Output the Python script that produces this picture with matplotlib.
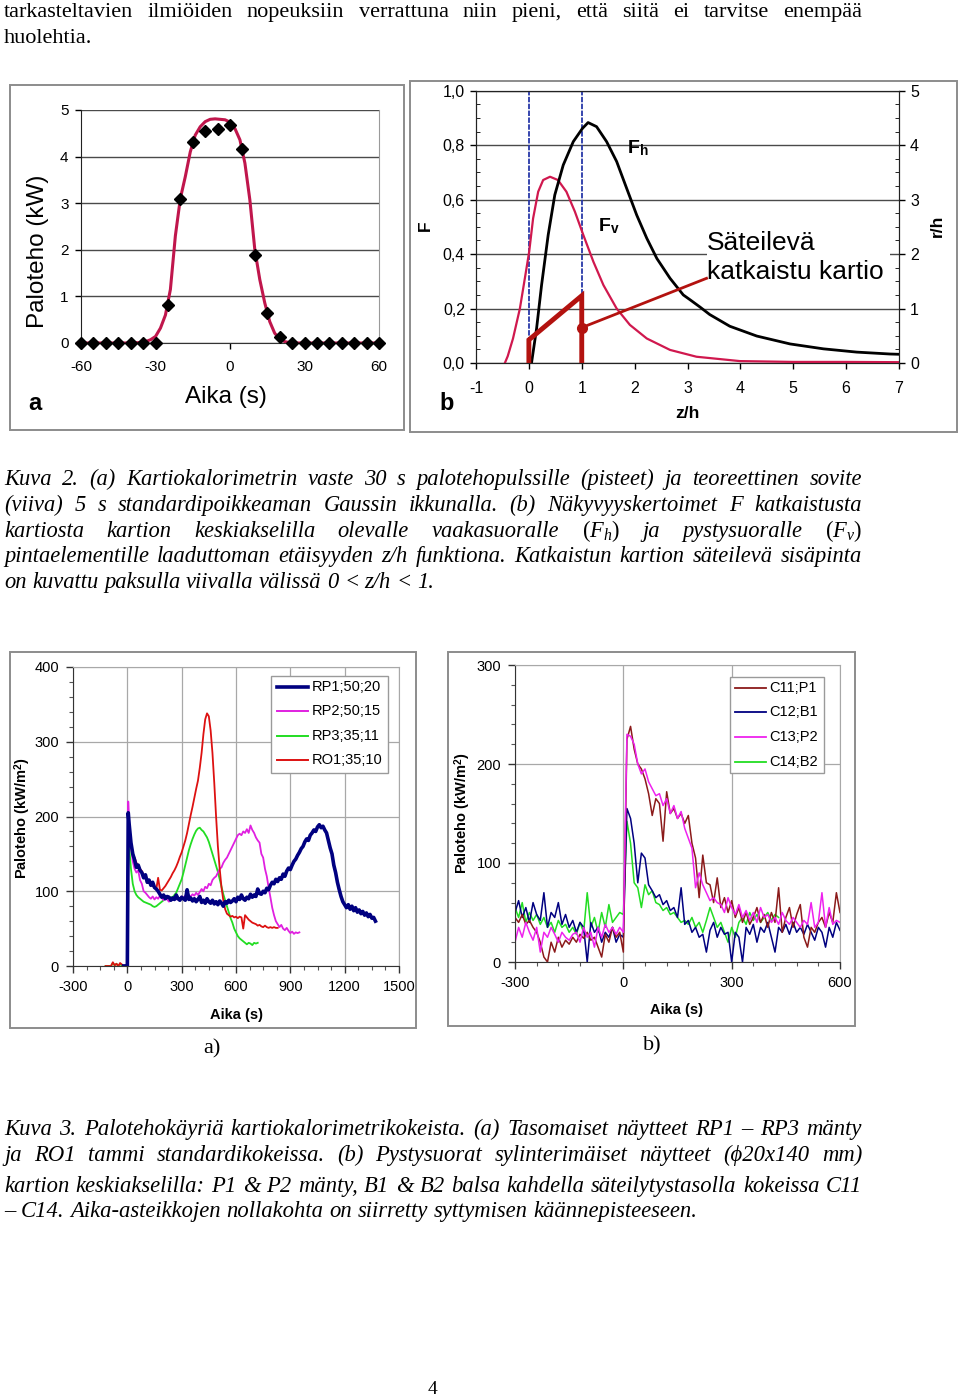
import numpy as np
import matplotlib
matplotlib.use("Agg")
import matplotlib.pyplot as plt
from matplotlib.lines import Line2D
from matplotlib.patches import Rectangle
from matplotlib.ticker import MultipleLocator, FuncFormatter

# ---------------- DATA ----------------
# Kuva 2a: pulse response points and Gaussian fit
pulse_t = [-60, -55, -50, -45, -40, -35, -30, -25, -20, -15, -10, -5, 0, 5, 10, 15, 20,
           25, 30, 35, 40, 45, 50, 55, 60]
pulse_v = [0, 0, 0, 0, 0, 0, 0, 0.82, 3.1, 4.32, 4.55, 4.6, 4.68, 4.17, 1.88, 0.65, 0.12,
           0, 0, 0, 0, 0, 0, 0, 0]
fit_t = [-60, -40, -36, -34, -32, -30, -28, -26, -24, -22, -20, -18, -16, -14, -12, -10, -8,
         -6, -4, -2, 0, 2, 4, 6, 8, 10, 12, 14, 16, 18, 20, 22, 24, 26, 60]
fit_v = [0, 0, 0.01, 0.03, 0.07, 0.14, 0.32, 0.6, 1.15, 2.3, 3.1, 3.57, 4.1, 4.46, 4.64, 4.75,
         4.8, 4.81, 4.8, 4.79, 4.74, 4.6, 4.36, 3.86, 3.07, 2.0, 1.36, 0.86, 0.46, 0.21, 0.09,
         0.03, 0.01, 0, 0]

# Kuva 2b: view factors
fh_z = [0.05, 0.146, 0.24, 0.365, 0.49, 0.65, 0.84, 1.015, 1.12, 1.28, 1.47, 1.66, 1.85, 2.04,
        2.23, 2.42, 2.67, 2.92, 3.05, 3.24, 3.42, 3.80, 4.31, 4.94, 5.57, 6.2, 6.83, 7.0]
fh_F = [0.0, 0.127, 0.286, 0.47, 0.617, 0.727, 0.813, 0.862, 0.883, 0.868, 0.813, 0.74, 0.641,
        0.543, 0.458, 0.384, 0.311, 0.25, 0.232, 0.205, 0.178, 0.135, 0.099, 0.07, 0.052,
        0.04, 0.033, 0.032]
fv_z = [-0.454, -0.40, -0.30, -0.17, -0.076, 0.006, 0.08, 0.176, 0.27, 0.40, 0.55, 0.71, 0.87,
        1.03, 1.22, 1.41, 1.66, 1.91, 2.23, 2.67, 3.17, 3.99, 5.0, 6.0, 7.0]
fv_F = [0.0, 0.025, 0.09, 0.2, 0.311, 0.409, 0.531, 0.629, 0.672, 0.684, 0.672, 0.629, 0.556,
        0.47, 0.372, 0.286, 0.2, 0.14, 0.09, 0.048, 0.023, 0.007, 0.004, 0.004, 0.003]
cone_z = [0, 0, 1, 1]
cone_F = [0, 0.085, 0.247, 0]
marker_zF = (1.0, 0.13)
label_zF = (3.36, 0.311)

# Kuva 3a: flat samples (t from -20 / -120 step 10 before ignition, peak at 5 s, then step 10 from 10 s)
rp1_pre = [0, 0, 0]
rp1_peak = 205
rp1_vals = [190, 165, 150, 142, 132, 135, 128, 125, 118, 122, 112, 115, 108, 112, 105, 103, 100,
            96, 92, 95, 90, 93, 92, 88, 91, 89, 95, 90, 88, 92, 90, 88, 102, 89, 91, 87, 90, 86,
            89, 93, 85, 88, 84, 90, 86, 84, 88, 83, 86, 82, 87, 84, 80, 86, 84, 88, 85, 87, 90,
            86, 92, 89, 95, 90, 88, 92, 90, 96, 92, 95, 93, 103, 97, 96, 100, 98, 104, 102, 108,
            112, 110, 116, 113, 118, 116, 123, 120, 127, 131, 129, 135, 140, 143, 148, 152, 157,
            160, 166, 170, 168, 175, 178, 182, 180, 186, 189, 185, 187, 182, 178, 168, 158, 150,
            135, 125, 112, 102, 93, 86, 82, 78, 82, 76, 80, 74, 78, 72, 75, 70, 73, 68, 71, 66,
            69, 64, 65, 60]
rp2_pre = [0, 0, 0]
rp2_peak = 220
rp2_vals = [190, 160, 140, 130, 125, 128, 115, 110, 100, 98, 95, 92, 90, 93, 89, 92, 90, 94, 91,
            88, 92, 89, 86, 90, 88, 92, 89, 91, 90, 93, 91, 94, 92, 95, 93, 96, 94, 98, 95, 99,
            103, 100, 106, 104, 110, 108, 115, 118, 120, 125, 130, 132, 138, 142, 145, 150, 155,
            160, 165, 170, 175, 177, 175, 180, 178, 183, 178, 188, 182, 178, 172, 168, 165, 150,
            145, 130, 120, 105, 92, 78, 68, 60, 56, 52, 55, 50, 48, 51, 47, 44, 46, 43, 45, 44, 45]
rp3_pre = [0, 0, 0, 0, 4, 1, 3, 0, 2, 1, 0, 1, 0]
rp3_peak = 190
rp3_vals = [160, 130, 110, 100, 95, 92, 90, 88, 86, 85, 84, 83, 82, 80, 79, 80, 82, 84, 86, 88,
            90, 91, 91, 92, 92, 95, 98, 104, 110, 116, 125, 135, 145, 155, 163, 170, 176, 181,
            184, 185, 182, 180, 176, 172, 166, 158, 150, 142, 134, 126, 116, 106, 96, 88, 80, 72,
            64, 58, 50, 45, 40, 37, 35, 33, 31, 29, 31, 30, 28, 31, 30, 31]
ro1_pre = [0, 0, 0, 0, 5, 1, 3, 0, 4, 2, 0, 1, 0]
ro1_peak = 205
ro1_vals = [175, 160, 150, 145, 138, 135, 130, 127, 122, 118, 115, 112, 110, 107, 105, 103, 118,
            102, 101, 104, 107, 111, 115, 119, 124, 128, 133, 139, 146, 152, 160, 168, 178, 190,
            202, 213, 225, 237, 248, 265, 285, 310, 330, 338, 334, 315, 285, 245, 200, 160, 130,
            105, 88, 76, 70, 68, 66, 67, 65, 66, 64, 66, 65, 50, 68, 65, 62, 60, 58, 57, 56, 54,
            55, 53, 52, 54, 52, 51, 52, 51, 52, 51, 51]

# Kuva 3b: cylinder samples, t from -300 s step 10 s
c11 = [45, 40, 48, 38, 42, 35, 30, 20, 5, 0, 20, 10, 25, 15, 22, 18, 25, 20, 28, 24, 30, 22, 25,
       15, 5, 28, 20, 35, 25, 30, 10, 225, 238, 215, 200, 195, 185, 170, 148, 165, 160, 122, 172,
       150, 155, 145, 150, 140, 148, 120, 105, 65, 108, 80, 78, 60, 85, 55, 65, 50, 62, 45, 55,
       40, 50, 38, 45, 55, 40, 48, 35, 50, 40, 75, 30, 45, 55, 35, 48, 58, 25, 15, 35, 30, 40,
       45, 35, 50, 40, 70, 50]
c12 = [50, 62, 45, 55, 40, 60, 48, 42, 70, 35, 50, 45, 60, 38, 48, 35, 42, 30, 40, 35, 0, 40,
       30, 35, 20, 30, 25, 35, 20, 28, 25, 155, 145, 120, 80, 110, 105, 78, 72, 65, 68, 58, 62,
       52, 55, 45, 75, 38, 42, 30, 35, 25, 28, 10, 32, 40, 25, 35, 28, 30, 0, 30, 25, 0, 35, 28,
       38, 20, 35, 30, 40, 25, 10, 35, 30, 38, 28, 40, 30, 35, 28, 38, 30, 22, 35, 30, 15, 35,
       25, 40, 32]
c13 = [20, 35, 25, 40, 30, 22, 35, 10, 30, 25, 35, 28, 20, 30, 25, 22, 28, 30, 20, 35, 25, 30,
       15, 35, 25, 38, 30, 35, 28, 35, 30, 230, 228, 220, 200, 190, 195, 182, 175, 168, 170, 158,
       165, 150, 158, 145, 152, 135, 125, 115, 75, 90, 78, 70, 62, 65, 60, 58, 50, 65, 55, 48,
       58, 45, 52, 42, 50, 40, 55, 45, 48, 40, 45, 38, 50, 42, 38, 45, 40, 35, 42, 38, 60, 35,
       40, 70, 35, 55, 38, 42, 40]
c14 = [55, 45, 60, 40, 50, 42, 48, 38, 45, 35, 40, 30, 42, 35, 38, 30, 35, 28, 40, 30, 70, 35,
       45, 30, 50, 35, 58, 40, 45, 50, 48, 142, 120, 80, 75, 55, 78, 68, 72, 60, 58, 52, 55, 48,
       50, 45, 40, 42, 38, 45, 35, 40, 30, 42, 55, 45, 35, 40, 30, 20, 35, 25, 40, 45, 38, 50,
       42, 48, 40, 45, 50, 42, 48, 45]

legend_a = ["RP1;50;20", "RP2;50;15", "RP3;35;11", "RO1;35;10"]
legend_b = ["C11;P1", "C12;B1", "C13;P2", "C14;B2"]

# ---------------- FIGURE ----------------
plt.rcParams['font.family'] = ['Liberation Sans', 'DejaVu Sans']
plt.rcParams['axes.unicode_minus'] = False
plt.rcParams['mathtext.fontset'] = 'custom'
plt.rcParams['mathtext.rm'] = 'Liberation Serif'
plt.rcParams['mathtext.it'] = 'Liberation Serif:italic'
plt.rcParams['mathtext.bf'] = 'Liberation Sans:bold'

W, H = 960, 1399
fig = plt.figure(figsize=(W / 100, H / 100), dpi=100)
fig.patch.set_facecolor('white')
R = fig.canvas.get_renderer()
SERIF = ['Liberation Serif', 'DejaVu Serif']


def fx(x):
    return x / W


def fy(y):
    return 1 - y / H


def add_ax(x0, y0, x1, y1):
    return fig.add_axes([fx(x0), fy(y1), (x1 - x0) / W, (y1 - y0) / H])


def frame(x0, y0, x1, y1, color='#8c8c8c', lw=1.4, fc='none', z=4):
    fig.add_artist(Rectangle((fx(x0), fy(y1)), (x1 - x0) / W, (y1 - y0) / H,
                             transform=fig.transFigure, fc=fc, ec=color, lw=lw, zorder=z))


def ftext(x, y, s, **kw):
    return fig.text(fx(x), fy(y), s, **kw)


# ---- text paragraphs ----
def twidth(s, size, style):
    t = fig.text(0, 0, s, fontsize=size, family=SERIF, style=style)
    w = t.get_window_extent(renderer=R).width
    t.remove()
    return w


def fit_size(line, target, style, base=15.0):
    return base * target / twidth(line, base, style)


def draw_line(line, yb, size, style, justify, x0=4, x1=862):
    words = line.split(' ')
    widths = [twidth(w, size, style) for w in words]
    if justify and len(words) > 1:
        gap = (x1 - x0 - sum(widths)) / (len(words) - 1)
    else:
        gap = twidth('a a', size, style) - twidth('aa', size, style)
    x = x0
    for w, wd in zip(words, widths):
        fig.text(fx(x), fy(yb), w, fontsize=size, family=SERIF, style=style,
                 ha='left', va='baseline')
        x += wd + gap


def paragraph(lines, baselines, style, last_target):
    size = fit_size(lines[-1], last_target, style)
    for i, (ln, yb) in enumerate(zip(lines, baselines)):
        draw_line(ln, yb, size, style, justify=(i < len(lines) - 1))


paragraph(["tarkasteltavien ilmiöiden nopeuksiin verrattuna niin pieni, että siitä ei tarvitse enempää",
           "huolehtia."], [17, 43], 'normal', 89)

paragraph(["Kuva 2. (a) Kartiokalorimetrin vaste 30 s palotehopulssille (pisteet) ja teoreettinen sovite",
           "(viiva) 5 s standardipoikkeaman Gaussin ikkunalla. (b) Näkyvyyskertoimet F katkaistusta",
           r"kartiosta kartion keskiakselilla olevalle vaakasuoralle $(F_h)$ ja pystysuoralle $(F_v)$",
           "pintaelementille laaduttoman etäisyyden z/h funktiona. Katkaistun kartion säteilevä sisäpinta",
           "on kuvattu paksulla viivalla välissä 0 < z/h < 1."],
          [485, 511, 537, 562, 588], 'italic', 433)

paragraph(["Kuva 3. Palotehokäyriä kartiokalorimetrikokeista. (a) Tasomaiset näytteet RP1 – RP3 mänty",
           "ja RO1 tammi standardikokeissa. (b) Pystysuorat sylinterimäiset näytteet (ϕ20x140 mm)",
           "kartion keskiakselilla: P1 & P2 mänty, B1 & B2 balsa kahdella säteilytystasolla kokeissa C11",
           "– C14. Aika-asteikkojen nollakohta on siirretty syttymisen käännepisteeseen."],
          [1135, 1161, 1192, 1217], 'italic', 695)

ftext(212, 1049, "a)", fontsize=16, family=SERIF, ha='center', va='center')
ftext(652, 1046, "b)", fontsize=16, family=SERIF, ha='center', va='center')
ftext(432, 1390, "4", fontsize=14, family=SERIF, ha='center', va='center')

# ---- panel frames ----
frame(10, 85, 404, 430)
frame(410, 81, 957, 432)
frame(10, 652, 416, 1028)
frame(448, 652, 855, 1026)

# ---------------- Kuva 2a ----------------
axA = add_ax(81, 110, 379, 343)
axA.set_xlim(-60, 60)
axA.set_ylim(0, 5)
axA.set_xticks([-60, -30, 0, 30, 60])
axA.set_yticks(range(6))
axA.set_axisbelow(True)
axA.grid(axis='y', color='#4a4a4a', lw=1.0)
axA.spines['top'].set_visible(False)
axA.spines['right'].set_color('#9a9a9a')
axA.spines['bottom'].set_color('#333333')
axA.spines['left'].set_color('#222222')
axA.plot(fit_t, fit_v, color='#c0164c', lw=2.2, zorder=2)
axA.plot(pulse_t, pulse_v, ls='none', marker='D', ms=6, color='black', clip_on=False, zorder=3)
axA.tick_params(labelsize=11, length=4, width=1, pad=5)
axA.tick_params(axis='x', pad=8)
ftext(38, 251, "Paloteho (kW)", fontsize=17.5, rotation=90, ha='center', va='center')
ftext(226, 397, "Aika (s)", fontsize=17.5, ha='center', va='center')
ftext(35, 404, "a", fontsize=17, fontweight='bold', ha='center', va='center')

# ---------------- Kuva 2b ----------------
axB = add_ax(476, 90.7, 899, 363)
axB.set_xlim(-1, 7)
axB.set_ylim(0, 1)
axB.set_xticks(range(-1, 8))
axB.set_yticks(np.arange(0, 1.01, 0.2))
axB.yaxis.set_major_formatter(FuncFormatter(lambda v, p: f'{v:.1f}'.replace('.', ',')))
axB.yaxis.set_minor_locator(MultipleLocator(0.05))
axB.set_axisbelow(True)
axB.grid(axis='y', color='#4a4a4a', lw=1.0)
for s in axB.spines.values():
    s.set_color('#222222')
axB.tick_params(labelsize=11.5, length=4, width=1, pad=4)
axB.tick_params(axis='x', pad=9)
axB.tick_params(axis='y', which='minor', length=3, direction='in')
axB.add_patch(Rectangle((3.37, 0.268), 3.46, 0.22, fc='white', ec='none', zorder=1.5))
axB.axvline(0, color='#2838a8', lw=1.3, ls=(0, (3, 0.8)), zorder=2)
axB.axvline(1, color='#2838a8', lw=1.3, ls=(0, (3, 0.8)), zorder=2)
axB.plot(fv_z, fv_F, color='#d0184e', lw=1.6, zorder=3)
axB.plot(fh_z, fh_F, color='black', lw=2.0, zorder=3)
axB.plot(cone_z, cone_F, color='#b3120f', lw=3.5, zorder=4, solid_joinstyle='miter')
axB.plot([marker_zF[0], label_zF[0]], [marker_zF[1], label_zF[1]], color='#b3120f', lw=2, zorder=4)
axB.plot([marker_zF[0]], [marker_zF[1]], marker='o', ms=7, color='#b3120f', zorder=5)
axB2 = axB.twinx()
axB2.set_ylim(0, 5)
axB2.set_yticks(range(6))
axB2.yaxis.set_minor_locator(MultipleLocator(0.25))
axB2.tick_params(labelsize=11.5, length=4, width=1, pad=4)
axB2.tick_params(axis='y', which='minor', length=3, direction='in')
for s in axB2.spines.values():
    s.set_color('#222222')
ftext(707, 243, "Säteilevä", fontsize=19, ha='left', va='center')
ftext(707, 272, "katkaistu kartio", fontsize=19, ha='left', va='center')
ftext(627, 148, r"$\mathbf{F}_\mathbf{h}$", fontsize=14, ha='left', va='center')
ftext(598, 226, r"$\mathbf{F}_\mathbf{v}$", fontsize=14, ha='left', va='center')
ftext(425, 226, "F", fontsize=12.5, fontweight='bold', rotation=90, ha='center', va='center')
ftext(937, 226, "r/h", fontsize=12.5, fontweight='bold', rotation=90, ha='center', va='center')
ftext(687, 414, "z/h", fontsize=12.5, fontweight='bold', ha='center', va='center')
ftext(447, 404, "b", fontsize=17, fontweight='bold', ha='center', va='center')


# ---------------- Kuva 3 helpers ----------------
def style_axes(ax):
    ax.set_axisbelow(True)
    ax.grid(True, which='major', color='#a8a8a8', lw=0.9)
    ax.spines['left'].set_color('#333333')
    ax.spines['bottom'].set_color('#333333')
    ax.spines['top'].set_color('#a8a8a8')
    ax.spines['right'].set_color('#a8a8a8')
    ax.tick_params(which='major', labelsize=10.5, length=5, width=1, pad=5, colors='#333333',
                   labelcolor='black')
    ax.tick_params(which='minor', length=3, width=0.8, colors='#555555')


def legend_box(x0, y0, x1, y1, labels, colors, lws, ys, lx0, lx1, tx, fs):
    frame(x0, y0, x1, y1, color='#9a9a9a', lw=1.0, fc='white', z=5)
    for lab, col, lw, y in zip(labels, colors, lws, ys):
        fig.add_artist(Line2D([fx(lx0), fx(lx1)], [fy(y), fy(y)], transform=fig.transFigure,
                              color=col, lw=lw, zorder=6))
        fig.text(fx(tx), fy(y), lab, fontsize=fs, ha='left', va='center', zorder=6)


def series(pre, peak, vals):
    t = np.concatenate([np.arange(-10 * (len(pre) - 1), 1, 10), [5], np.arange(10, 10 * len(vals) + 1, 10)])
    v = np.concatenate([pre, [peak], vals])
    return t, v


# ---------------- Kuva 3a ----------------
axC = add_ax(73, 667, 399, 966)
axC.set_xlim(-300, 1500)
axC.set_ylim(0, 400)
axC.set_xticks(range(-300, 1501, 300))
axC.set_yticks(range(0, 401, 100))
axC.xaxis.set_minor_locator(MultipleLocator(75))
axC.yaxis.set_minor_locator(MultipleLocator(20))
style_axes(axC)
col_rp1, col_rp2, col_rp3, col_ro1 = '#000080', '#e020e0', '#22dd22', '#dd1111'
for (pre, pk, vals), col, lw in [((rp3_pre, rp3_peak, rp3_vals), col_rp3, 1.3),
                                 ((rp2_pre, rp2_peak, rp2_vals), col_rp2, 1.3),
                                 ((ro1_pre, ro1_peak, ro1_vals), col_ro1, 1.3),
                                 ((rp1_pre, rp1_peak, rp1_vals), col_rp1, 2.6)]:
    t, v = series(pre, pk, vals)
    axC.plot(t, v, color=col, lw=lw)
ftext(23, 818, r"Paloteho (kW/m$^\mathbf{2}$)", fontsize=10.5, fontweight='bold', rotation=90,
      ha='center', va='center')
ftext(237, 1015, "Aika (s)", fontsize=10.5, fontweight='bold', ha='center', va='center')
legend_box(271, 676, 388, 773, legend_a, [col_rp1, col_rp2, col_rp3, col_ro1],
           [2.6, 1.4, 1.4, 1.4], [687, 711, 736, 760], 277, 308, 312, 10.5)

# ---------------- Kuva 3b ----------------
axD = add_ax(515, 665, 840, 962)
axD.set_xlim(-300, 600)
axD.set_ylim(0, 300)
axD.set_xticks([-300, 0, 300, 600])
axD.set_yticks([0, 100, 200, 300])
axD.xaxis.set_minor_locator(MultipleLocator(60))
axD.yaxis.set_minor_locator(MultipleLocator(20))
style_axes(axD)
col_c11, col_c12, col_c13, col_c14 = '#8b1a1a', '#000080', '#ee22ee', '#22dd22'
tb = np.arange(-300, 601, 10)
axD.plot(tb[:len(c14)], c14, color=col_c14, lw=1.1)
axD.plot(tb[:len(c12)], c12, color=col_c12, lw=1.1)
axD.plot(tb[:len(c11)], c11, color=col_c11, lw=1.1)
axD.plot(tb[:len(c13)], c13, color=col_c13, lw=1.1)
ftext(463, 813, r"Paloteho (kW/m$^\mathbf{2}$)", fontsize=10.5, fontweight='bold', rotation=90,
      ha='center', va='center')
ftext(677, 1010, "Aika (s)", fontsize=10.5, fontweight='bold', ha='center', va='center')
legend_box(730, 677, 824, 773, legend_b, [col_c11, col_c12, col_c13, col_c14],
           [1.3, 1.3, 1.3, 1.3], [688, 712, 737, 762], 735, 766, 769, 10.5)

fig.savefig("out.png", dpi=100, facecolor='white')
